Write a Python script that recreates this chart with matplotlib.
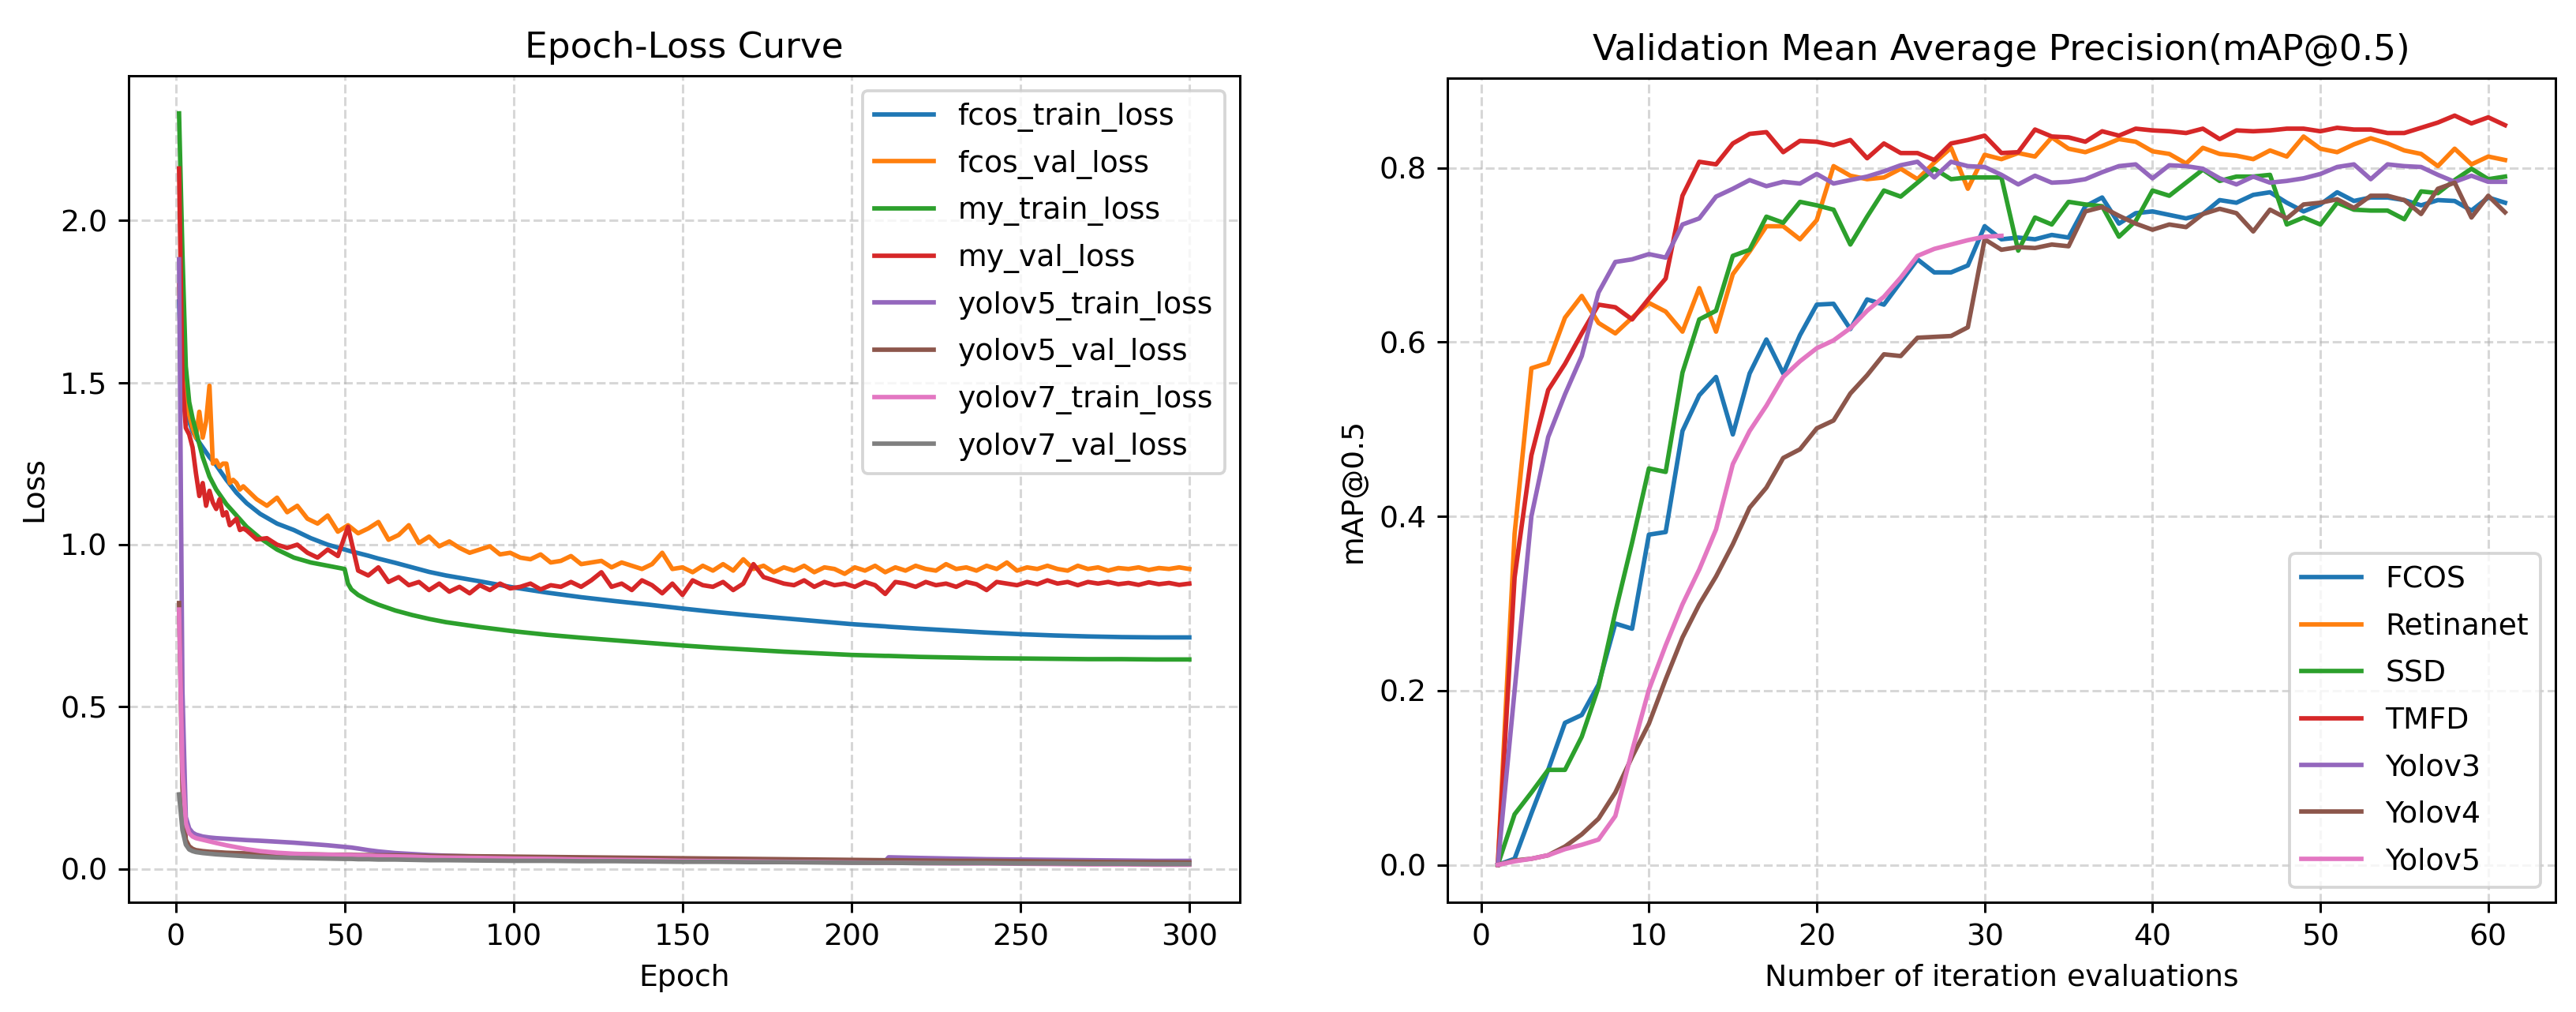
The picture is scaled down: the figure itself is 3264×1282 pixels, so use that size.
import numpy as np
import matplotlib
matplotlib.use('Agg')
import matplotlib.pyplot as plt

# ---------------- left panel: epoch / loss ----------------
ep_smooth = [1, 2, 3, 4, 5, 6, 8, 10, 12, 15, 18, 21, 25, 30, 35, 40, 45, 50, 51, 52,
             54, 57, 60, 65, 70, 75, 80, 90, 100, 110, 120, 130, 140, 150, 160, 170, 180, 190, 200, 210,
             211, 220, 230, 240, 250, 260, 270, 280, 290, 300]

fcos_train_loss = [1.75, 1.50, 1.42, 1.38, 1.35, 1.33, 1.30, 1.27, 1.245, 1.20,
                   1.16, 1.128, 1.095, 1.065, 1.045, 1.02, 1.00, 0.985, 0.982, 0.979,
                   0.974, 0.966, 0.957, 0.944, 0.930, 0.916, 0.905, 0.887, 0.868, 0.852,
                   0.838, 0.826, 0.815, 0.803, 0.792, 0.782, 0.773, 0.764, 0.755, 0.748,
                   0.747, 0.741, 0.735, 0.729, 0.724, 0.720, 0.717, 0.715, 0.714, 0.714]
my_train_loss = [2.33, 1.90, 1.55, 1.44, 1.39, 1.35, 1.27, 1.21, 1.17, 1.125,
                 1.09, 1.055, 1.02, 0.985, 0.96, 0.945, 0.935, 0.925, 0.88, 0.862,
                 0.845, 0.828, 0.815, 0.797, 0.783, 0.771, 0.761, 0.746, 0.733, 0.722,
                 0.713, 0.705, 0.697, 0.689, 0.682, 0.676, 0.670, 0.665, 0.660, 0.657,
                 0.657, 0.654, 0.652, 0.650, 0.649, 0.648, 0.647, 0.647, 0.646, 0.646]
yolov5_train_loss = [1.88, 0.55, 0.16, 0.125, 0.112, 0.106, 0.100, 0.097, 0.095, 0.093,
                     0.091, 0.089, 0.087, 0.084, 0.081, 0.077, 0.073, 0.068, 0.067, 0.066,
                     0.063, 0.058, 0.054, 0.049, 0.046, 0.043, 0.041, 0.038, 0.036, 0.034,
                     0.032, 0.031, 0.030, 0.029, 0.028, 0.027, 0.026, 0.025, 0.025, 0.024,
                     0.036, 0.034, 0.032, 0.030, 0.029, 0.028, 0.027, 0.026, 0.025, 0.025]
yolov5_val_loss = [0.82, 0.25, 0.090, 0.070, 0.062, 0.058, 0.055, 0.053, 0.052, 0.050,
                   0.049, 0.048, 0.047, 0.046, 0.045, 0.045, 0.044, 0.044, 0.044, 0.044,
                   0.043, 0.043, 0.042, 0.042, 0.041, 0.040, 0.040, 0.039, 0.038, 0.037,
                   0.036, 0.035, 0.034, 0.033, 0.032, 0.031, 0.030, 0.029, 0.028, 0.027,
                   0.027, 0.026, 0.025, 0.025, 0.024, 0.023, 0.022, 0.021, 0.021, 0.020]
yolov7_train_loss = [0.80, 0.30, 0.14, 0.11, 0.100, 0.095, 0.090, 0.085, 0.080, 0.073,
                     0.067, 0.061, 0.055, 0.050, 0.047, 0.045, 0.044, 0.043, 0.043, 0.043,
                     0.042, 0.041, 0.040, 0.039, 0.038, 0.036, 0.035, 0.034, 0.032, 0.031,
                     0.029, 0.028, 0.027, 0.025, 0.024, 0.023, 0.022, 0.021, 0.020, 0.019,
                     0.019, 0.018, 0.017, 0.017, 0.016, 0.015, 0.014, 0.014, 0.013, 0.013]
yolov7_val_loss = [0.23, 0.12, 0.075, 0.060, 0.055, 0.052, 0.049, 0.047, 0.045, 0.043,
                   0.041, 0.039, 0.037, 0.035, 0.034, 0.033, 0.032, 0.031, 0.031, 0.031,
                   0.030, 0.030, 0.029, 0.029, 0.028, 0.027, 0.027, 0.026, 0.025, 0.025,
                   0.024, 0.024, 0.023, 0.022, 0.022, 0.021, 0.021, 0.020, 0.019, 0.019,
                   0.019, 0.018, 0.018, 0.018, 0.017, 0.017, 0.016, 0.016, 0.015, 0.015]

ep_noisy = list(range(1, 21)) + list(range(21, 301, 3))

fcos_val_loss = [1.80, 1.55, 1.45, 1.40, 1.36, 1.33, 1.41, 1.33, 1.38, 1.49,
                 1.25, 1.26, 1.24, 1.25, 1.25, 1.19, 1.20, 1.19, 1.17, 1.18,
                 # from epoch 21, every 3 epochs
                 1.17, 1.14, 1.12, 1.145, 1.10, 1.12, 1.08, 1.065, 1.09, 1.04,
                 1.06, 1.035, 1.05, 1.07, 1.015, 1.03, 1.06, 1.005, 1.025, 0.995,
                 1.01, 0.99, 0.975, 0.985, 0.995, 0.97, 0.975, 0.96, 0.955, 0.97,
                 0.945, 0.95, 0.965, 0.94, 0.945, 0.95, 0.93, 0.945, 0.935, 0.925,
                 0.94, 0.975, 0.925, 0.93, 0.915, 0.935, 0.92, 0.94, 0.92, 0.955,
                 0.925, 0.935, 0.915, 0.93, 0.92, 0.935, 0.915, 0.93, 0.925, 0.91,
                 0.93, 0.92, 0.935, 0.915, 0.93, 0.92, 0.935, 0.925, 0.92, 0.94,
                 0.925, 0.93, 0.92, 0.935, 0.925, 0.945, 0.92, 0.93, 0.925, 0.935,
                 0.925, 0.92, 0.935, 0.925, 0.93, 0.92, 0.928, 0.925, 0.93, 0.922,
                 0.928, 0.925, 0.93, 0.925]
my_val_loss = [2.16, 1.50, 1.36, 1.34, 1.30, 1.22, 1.15, 1.19, 1.12, 1.166,
               1.13, 1.11, 1.14, 1.09, 1.10, 1.06, 1.07, 1.08, 1.045, 1.05,
               # from epoch 21, every 3 epochs
               1.044, 1.016, 1.02, 1.00, 0.99, 1.00, 0.975, 0.96, 0.985, 0.965,
               1.055, 0.92, 0.905, 0.93, 0.885, 0.90, 0.875, 0.885, 0.86, 0.88,
               0.855, 0.87, 0.85, 0.875, 0.86, 0.88, 0.865, 0.87, 0.88, 0.862,
               0.875, 0.87, 0.885, 0.87, 0.89, 0.915, 0.87, 0.88, 0.86, 0.89,
               0.875, 0.85, 0.88, 0.845, 0.89, 0.875, 0.87, 0.885, 0.86, 0.88,
               0.94, 0.90, 0.89, 0.88, 0.875, 0.89, 0.87, 0.885, 0.875, 0.88,
               0.87, 0.885, 0.875, 0.848, 0.885, 0.88, 0.87, 0.885, 0.875, 0.88,
               0.87, 0.885, 0.878, 0.86, 0.885, 0.88, 0.875, 0.885, 0.878, 0.89,
               0.88, 0.885, 0.875, 0.885, 0.88, 0.885, 0.878, 0.882, 0.876, 0.884,
               0.878, 0.882, 0.876, 0.88]

# ---------------- right panel: mAP@0.5 ----------------
evals = list(range(1, 62))
fcos_map = [0.0, 0.007, 0.059, 0.109, 0.163, 0.172, 0.207, 0.277, 0.271, 0.379,
            0.382, 0.498, 0.539, 0.560, 0.494, 0.564, 0.603, 0.564, 0.608, 0.643,
            0.644, 0.615, 0.649, 0.643, 0.669, 0.695, 0.680, 0.680, 0.688, 0.733,
            0.718, 0.720, 0.718, 0.723, 0.720, 0.756, 0.766, 0.736, 0.748, 0.750,
            0.746, 0.742, 0.747, 0.763, 0.760, 0.769, 0.772, 0.760, 0.750, 0.758,
            0.772, 0.762, 0.766, 0.766, 0.763, 0.757, 0.763, 0.762, 0.751, 0.766,
            0.760]
retinanet_map = [0.0, 0.38, 0.570, 0.576, 0.628, 0.653, 0.622, 0.610, 0.628, 0.645,
                 0.635, 0.612, 0.662, 0.612, 0.678, 0.704, 0.733, 0.733, 0.718, 0.740,
                 0.802, 0.791, 0.787, 0.789, 0.799, 0.787, 0.806, 0.823, 0.776, 0.815,
                 0.810, 0.817, 0.813, 0.835, 0.822, 0.818, 0.825, 0.833, 0.830, 0.819,
                 0.816, 0.805, 0.823, 0.816, 0.814, 0.810, 0.820, 0.813, 0.836, 0.822,
                 0.818, 0.827, 0.834, 0.828, 0.820, 0.816, 0.802, 0.822, 0.804, 0.813,
                 0.809]
ssd_map = [0.0, 0.058, 0.083, 0.109, 0.109, 0.147, 0.204, 0.29, 0.37, 0.455,
           0.451, 0.565, 0.626, 0.636, 0.699, 0.706, 0.744, 0.737, 0.761, 0.757,
           0.752, 0.712, 0.744, 0.774, 0.767, 0.783, 0.799, 0.787, 0.789, 0.789,
           0.789, 0.705, 0.743, 0.735, 0.761, 0.758, 0.756, 0.721, 0.739, 0.774,
           0.768, 0.783, 0.798, 0.785, 0.790, 0.790, 0.792, 0.735, 0.743, 0.735,
           0.760, 0.752, 0.751, 0.751, 0.741, 0.773, 0.771, 0.786, 0.799, 0.787,
           0.790]
tmfd_map = [0.0, 0.33, 0.47, 0.545, 0.575, 0.61, 0.643, 0.640, 0.626, 0.650,
            0.673, 0.768, 0.807, 0.804, 0.828, 0.839, 0.841, 0.818, 0.831, 0.830,
            0.826, 0.832, 0.811, 0.828, 0.817, 0.817, 0.809, 0.828, 0.832, 0.837,
            0.817, 0.818, 0.844, 0.836, 0.835, 0.830, 0.842, 0.837, 0.845, 0.843,
            0.842, 0.840, 0.845, 0.833, 0.843, 0.842, 0.843, 0.845, 0.845, 0.842,
            0.846, 0.844, 0.844, 0.840, 0.840, 0.846, 0.852, 0.860, 0.851, 0.858,
            0.849]
yolov3_map = [0.0, 0.20, 0.40, 0.491, 0.54, 0.584, 0.657, 0.692, 0.695, 0.701,
              0.697, 0.735, 0.742, 0.767, 0.776, 0.786, 0.779, 0.784, 0.782, 0.793,
              0.782, 0.786, 0.790, 0.796, 0.803, 0.807, 0.789, 0.807, 0.802, 0.801,
              0.792, 0.781, 0.791, 0.783, 0.784, 0.787, 0.795, 0.802, 0.804, 0.788,
              0.803, 0.802, 0.799, 0.788, 0.781, 0.790, 0.783, 0.785, 0.788, 0.793,
              0.801, 0.804, 0.787, 0.804, 0.802, 0.801, 0.792, 0.784, 0.791, 0.784,
              0.784]
yolov4_map = [0.0, 0.005, 0.007, 0.011, 0.021, 0.035, 0.053, 0.083, 0.124, 0.162,
              0.213, 0.261, 0.299, 0.331, 0.368, 0.410, 0.433, 0.467, 0.477, 0.501,
              0.510, 0.541, 0.562, 0.586, 0.584, 0.605, 0.606, 0.607, 0.617, 0.718,
              0.706, 0.709, 0.708, 0.712, 0.710, 0.750, 0.755, 0.745, 0.736, 0.729,
              0.735, 0.732, 0.747, 0.753, 0.748, 0.727, 0.752, 0.742, 0.758, 0.760,
              0.764, 0.754, 0.768, 0.768, 0.763, 0.747, 0.776, 0.783, 0.743, 0.768,
              0.749]
evals_v5 = list(range(1, 32))
yolov5_map = [0.0, 0.004, 0.007, 0.011, 0.018, 0.023, 0.029, 0.056, 0.131, 0.201,
              0.252, 0.299, 0.339, 0.385, 0.460, 0.498, 0.527, 0.560, 0.578, 0.593,
              0.602, 0.616, 0.636, 0.652, 0.674, 0.699, 0.707, 0.712, 0.717, 0.721,
              0.722]

fig, (ax1, ax2) = plt.subplots(1, 2, figsize=(12, 1282 / 272), dpi=272)

ax1.plot(ep_smooth, fcos_train_loss, label='fcos_train_loss')
ax1.plot(ep_noisy, fcos_val_loss, label='fcos_val_loss')
ax1.plot(ep_smooth, my_train_loss, label='my_train_loss')
ax1.plot(ep_noisy, my_val_loss, label='my_val_loss')
ax1.plot(ep_smooth, yolov5_train_loss, label='yolov5_train_loss')
ax1.plot(ep_smooth, yolov5_val_loss, label='yolov5_val_loss')
ax1.plot(ep_smooth, yolov7_train_loss, label='yolov7_train_loss')
ax1.plot(ep_smooth, yolov7_val_loss, label='yolov7_val_loss')
ax1.set_title('Epoch-Loss Curve')
ax1.set_xlabel('Epoch')
ax1.set_ylabel('Loss')
ax1.grid(True, linestyle='--', alpha=0.5)
ax1.legend(loc='upper right', labelspacing=0.6)

ax2.plot(evals, fcos_map, label='FCOS')
ax2.plot(evals, retinanet_map, label='Retinanet')
ax2.plot(evals, ssd_map, label='SSD')
ax2.plot(evals, tmfd_map, label='TMFD')
ax2.plot(evals, yolov3_map, label='Yolov3')
ax2.plot(evals, yolov4_map, label='Yolov4')
ax2.plot(evals_v5, yolov5_map, label='Yolov5')
ax2.set_title('Validation Mean Average Precision(mAP@0.5)')
ax2.set_xlabel('Number of iteration evaluations')
ax2.set_ylabel('mAP@0.5')
ax2.grid(True, linestyle='--', alpha=0.5)
ax2.legend(loc='lower right', labelspacing=0.62)

ax1.set_position([0.0499, 0.1084, 0.4314, 0.8167])
ax2.set_position([0.5619, 0.1084, 0.4301, 0.8144])

plt.savefig('out.png', dpi=272)
